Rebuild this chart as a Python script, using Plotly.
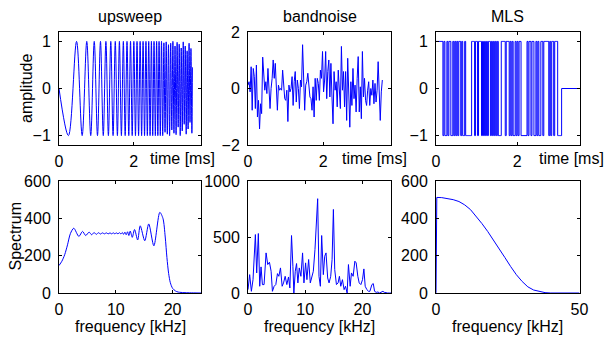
import plotly.graph_objects as go

# ---------------- data ----------------
# upsweep: times [ms] of successive extrema and their amplitudes
sweep_t = [0.000, 0.252, 0.470, 0.620, 0.743, 0.849, 0.943, 1.030, 1.110, 1.185,
           1.255, 1.322, 1.386, 1.447, 1.506, 1.563, 1.617, 1.670, 1.722, 1.771,
           1.820, 1.867, 1.914, 1.959, 2.003, 2.046, 2.088, 2.130, 2.171, 2.211,
           2.250, 2.289, 2.327, 2.364, 2.401, 2.437, 2.473, 2.508, 2.543, 2.578,
           2.612, 2.645, 2.678, 2.711, 2.743, 2.775, 2.807, 2.838, 2.869, 2.899,
           2.930, 2.960, 2.989, 3.019, 3.048, 3.076, 3.105, 3.133, 3.161, 3.189,
           3.217, 3.244, 3.271, 3.298, 3.325, 3.351, 3.378, 3.404, 3.429, 3.455,
           3.481, 3.506, 3.531, 3.556, 3.570]
sweep_y = [0.0,
           -1, 1, -1, 1, -1, 1, -1, 1, -1, 1,
           -1, 1, -1, 1, -1, 1, -1, 1, -1, 1,
           -1, 1, -1, 1, -1, 1, -1, 1, -1, 1,
           -1, 1, -1, 1, -1, 1, -1, 1, -1, 1,
           -1, 1, -1, 1, -1,
           0.97, -0.93, 0.99, -0.97, 0.93, -1.0, 0.96, -0.88, 1.0, -0.95,
           0.90, -0.98, 0.98, -0.82, 0.94, -1.0, 0.86, -0.90, 0.99, -0.76,
           0.90, -0.97, 0.80, -0.86, 0.96, -0.72, 0.85, -0.95,
           0.45]

# bandnoise: amplitude samples spanning 0 .. 3.57 ms
noise_end = 3.57
noise_y = [0.12, 0.24, -0.12, 0.77, -0.77, 0.71, 0.42, -0.71, 0.83, -1.01, -0.42, -1.43,
           -0.54, -0.89, 1.11, 0.36, -0.06, 0.24, -0.18, 0.71, -0.12, -0.71, 0.0, 0.36,
           1.01, 0.36, 0.89, -0.24, -0.77, 0.12, -0.06, 0.0, -0.06, 0.65, 0.12, -0.36,
           -0.42, -0.06, -1.17, 0.12, -0.12, 0.0, 0.42, -0.6, 0.24, 0.6, -0.48, 0.3,
           0.0, -0.71, 0.3, 0.06, 1.55, 0.36, -0.77, 0.12, 0.24, 0.54, 0.0, -0.3,
           -0.36, -0.77, 0.06, -1.01, 0.36, -0.42, 0.36, 0.18, -0.42, 0.65, 0.36, 1.31,
           -0.12, 0.3, 1.31, -0.36, 0.6, 1.01, -0.3, 0.89, -0.3, -1.25, 0.6, -0.06,
           0.24, -0.65, 0.65, -0.18, -0.71, 1.49, -0.06, 0.6, -0.65, 0.6, -1.13, 1.07,
           -0.36, -1.37, 0.24, -0.6, 0.71, -0.36, 0.12, -0.83, 0.36, 1.13, -0.83, 0.06,
           -1.07, 1.31, -0.3, 0.36, -0.42, -0.6, -0.06, 0.24, -0.6, 0.0, -0.24, 0.3,
           -0.54, 0.18, -0.48, -0.06, 0.95, -0.48, -1.13, -0.12, 0.3]

# MLS: chip levels (1 -> +1, 0 -> -1), sequence ends at mls_end ms, then 0
mls_bits = ("1111111" "0100" "101100101" "0101101001" "000000"
            "1110110111" "0101010110" "1010101000" "1111011101" "0100101011"
            "000000" "1011011" "0010100" "1101111101" "011011" "1" "0000")
mls_end = 3.09
mls_xmax = 3.53

# upsweep spectrum (kHz, value)
sspec_f = [0.0, 0.5, 1.0, 1.5, 2.0, 2.6, 3.5, 4.14, 4.7, 5.3, 5.75, 6.18, 6.56, 6.94,
           7.3, 7.64, 8.0, 8.34, 8.66, 8.98, 9.27, 9.56, 9.83, 10.09, 10.38, 10.67,
           10.9, 11.14, 11.37, 11.6, 11.83, 12.07, 12.3, 12.54, 12.9, 13.3, 13.85,
           14.3, 15.1, 15.8, 16.7, 17.75, 18.3, 18.7, 19.0, 19.3, 19.6, 20.0, 20.5,
           21.0, 22.0, 23.0, 25.0]
sspec_v = [147, 170, 205, 258, 318, 347, 303, 330, 308, 326, 312, 324, 314, 323,
           316, 322, 317, 322, 317, 322, 317, 322, 317, 322, 317, 323,
           316, 324, 314, 326, 312, 328, 308, 332, 298, 340, 284,
           360, 280, 370, 253, 432, 400, 300, 190, 105, 55, 25, 11,
           5, 2, 1, 0]

# bandnoise spectrum (kHz, value)
nspec_f = [0.00, 0.29, 0.59, 0.88, 1.29, 1.52, 1.81, 2.05, 2.28, 2.52, 2.81, 3.16,
           3.45, 3.75, 4.04, 4.27, 4.57, 4.86, 5.15, 5.39, 5.68, 5.97, 6.21, 6.50,
           6.79, 7.08, 7.32, 7.61, 7.85, 8.02, 8.26, 8.49, 8.72, 8.96, 9.25, 9.54,
           9.78, 10.07, 10.30, 10.60, 10.89, 11.18, 11.42, 11.71, 11.94, 12.18, 12.41,
           12.65, 12.88, 13.17, 13.41, 13.64, 13.93, 14.17, 14.46, 14.70, 14.93, 15.16,
           15.46, 15.75, 15.98, 16.22, 16.51, 16.80, 17.04, 17.33, 17.56, 17.86, 18.09,
           18.38, 18.68, 18.91, 19.20, 19.44, 19.73, 20.02, 20.26, 20.49, 20.78, 21.08,
           21.31, 21.66, 21.90, 22.13, 22.42, 22.72, 23.01, 23.30, 23.59, 23.83, 24.12,
           24.41, 24.71, 25.00]
nspec_v = [30, 164, 15, 119, 522, 179, 531, 60, 233, 75, 75, 358, 254, 275, 194, 15,
           60, 75, 173, 149, 224, 60, 90, 149, 75, 143, 45, 513, 239, 0, 194, 263,
           90, 224, 149, 358, 90, 269, 119, 299, 90, 149, 194, 388, 597, 842, 149,
           60, 513, 164, 328, 358, 134, 90, 149, 299, 746, 209, 75, 90, 149, 60,
           119, 30, 60, 0, 254, 60, 179, 149, 284, 269, 149, 90, 75, 119, 215, 60,
           30, 15, 15, 75, 84, 15, 6, 9, 0, 6, 15, 6, 0, 0, 0, 0]

# MLS spectrum (kHz, value)
mspec_f = [0.0, 0.28, 2, 4, 6, 8, 10, 12, 14, 16, 18, 20, 22, 24, 26, 28, 30, 32,
           34, 36, 38, 40, 42, 46, 50]
mspec_v = [1, 512, 511, 507, 500, 490, 472, 447, 412, 372, 330, 285, 240, 190, 142,
           98, 62, 33, 16, 7, 2, 0, 0, 0, 0]

titles = ["upsweep", "bandnoise", "MLS"]

# ---------------- figure ----------------
BLUE = "#0000ff"
FONT = "Liberation Sans, Arial, Helvetica, sans-serif"
FS = 16
W, H = 604, 339

noise_t = [i * noise_end / (len(noise_y) - 1) for i in range(len(noise_y))]
levels = [1.0 if b == "1" else -1.0 for b in mls_bits]
chip = mls_end / len(levels)
mls_t = [i * chip for i in range(len(levels) + 1)] + [mls_xmax]
mls_y = levels + [0.0, 0.0]

fig = go.Figure()
line = dict(color=BLUE, width=1)
fig.add_trace(go.Scatter(x=sweep_t, y=sweep_y, mode="lines", line=dict(color=BLUE, width=1, shape="spline", smoothing=1.0), xaxis="x", yaxis="y"))
fig.add_trace(go.Scatter(x=noise_t, y=noise_y, mode="lines", line=line, xaxis="x2", yaxis="y2"))
fig.add_trace(go.Scatter(x=mls_t, y=mls_y, mode="lines", line=dict(color=BLUE, width=1, shape="hv"), xaxis="x3", yaxis="y3"))
fig.add_trace(go.Scatter(x=sspec_f, y=sspec_v, mode="lines", line=dict(color=BLUE, width=1, shape="spline", smoothing=0.8), xaxis="x4", yaxis="y4"))
fig.add_trace(go.Scatter(x=nspec_f, y=nspec_v, mode="lines", line=line, xaxis="x5", yaxis="y5"))
fig.add_trace(go.Scatter(x=mspec_f, y=mspec_v, mode="lines", line=line, xaxis="x6", yaxis="y6"))

cols = [(59, 201), (248, 391), (436, 579.5)]
rows = [(32, 145), (181, 293)]

def px_x(a, b):
    return [a / W, b / W]

def px_y(top, bot):
    return [1 - bot / H, 1 - top / H]

base = dict(showline=True, linecolor="black", linewidth=1, mirror="ticks",
            ticks="inside", ticklen=3, tickcolor="black", tickwidth=1,
            showgrid=False, zeroline=False, automargin=False,
            tickfont=dict(family=FONT, size=FS, color="black"))

xr = [[0, 3.8], [0, 3.8], [0, mls_xmax], [0, 25], [0, 25], [0, 50]]
yr = [[-1.2, 1.2], [-2, 2], [-1.2, 1.2], [0, 600], [0, 1000], [0, 600]]
xt = [[0, 2], [0, 2], [0, 2], [0, 10, 20], [0, 10, 20], [0, 50]]
yt = [[-1, 0, 1], [-2, 0, 2], [-1, 0, 1], [0, 200, 400, 600], [0, 500, 1000], [0, 200, 400, 600]]

lay = {}
for i in range(6):
    r, c = divmod(i, 3)
    n = "" if i == 0 else str(i + 1)
    lay["xaxis" + n] = dict(base, domain=px_x(*cols[c]), range=xr[i], tickvals=xt[i],
                            anchor="y" + n, ticklabelstandoff=2)
    lay["yaxis" + n] = dict(base, domain=px_y(*rows[r]), range=yr[i], tickvals=yt[i],
                            anchor="x" + n, ticklabelstandoff=4)

ann = []
def txt(s, x, y, xanchor="center", angle=0):
    ann.append(dict(text=s, x=x / W, y=1 - y / H, xref="paper", yref="paper",
                    xanchor=xanchor, yanchor="middle", showarrow=False, textangle=angle,
                    font=dict(family=FONT, size=FS, color="black")))

for c, t in enumerate(titles):
    txt(t, (cols[c][0] + cols[c][1]) / 2, 16.5)
for xl in (148, 340, 537):
    txt("time [ms]", xl, 158, xanchor="left")
for c in range(3):
    txt("frequency [kHz]", (cols[c][0] + cols[c][1]) / 2, 326)
txt("amplitude", 26.5, 88.5, angle=-90)
txt("Spectrum", 14.5, 237, angle=-90)

fig.update_layout(template="none", width=W, height=H,
                  margin=dict(l=0, r=0, t=0, b=0, pad=0, autoexpand=False),
                  paper_bgcolor="white", plot_bgcolor="white", showlegend=False,
                  hovermode=False, annotations=ann, **lay)
fig.write_html("out.html", config={"displayModeBar": False, "staticPlot": True},
               post_script="document.body.style.margin='0';document.body.style.overflow='hidden';")
